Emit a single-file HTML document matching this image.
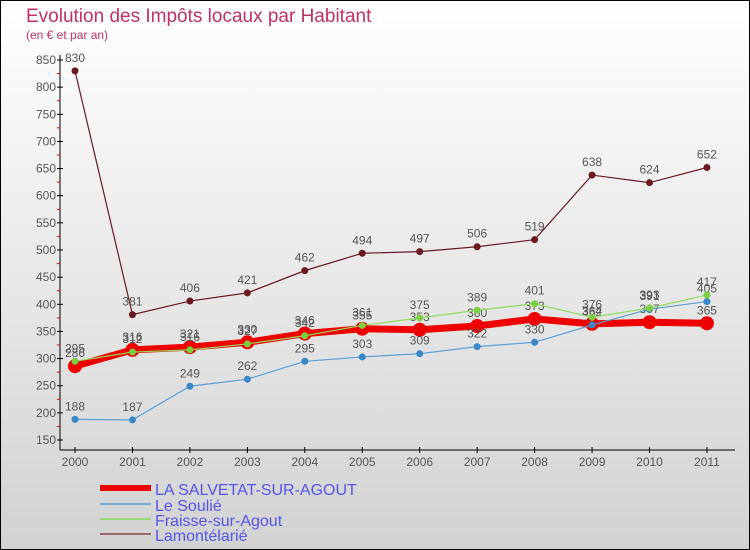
<!DOCTYPE html>
<html><head><meta charset="utf-8"><style>
body{margin:0;width:750px;height:550px;overflow:hidden;font-family:"Liberation Sans",sans-serif}
svg{display:block}
</style></head><body>
<svg width="750" height="550">
<defs><linearGradient id="bg" x1="0" y1="0" x2="0" y2="1"><stop offset="0" stop-color="#ffffff"/><stop offset="1" stop-color="#d2d2d2"/></linearGradient></defs>
<rect x="0.5" y="0.5" width="749" height="549" fill="url(#bg)" stroke="#000"/>
<text x="26" y="22" font-size="19" fill="#c0306a">Evolution des Impôts locaux par Habitant</text>
<text x="26" y="39" font-size="12" fill="#c0306a">(en € et par an)</text>
<g id="axes"></g><g id="series"></g><g id="legend"></g>
</svg>
<script>
const years=["2000","2001","2002","2003","2004","2005","2006","2007","2008","2009","2010","2011"];
const salvetat=[286,316,321,330,346,355,353,360,373,364,367,365];
const soulie=[188,187,249,262,295,303,309,322,330,362,391,405];
const fraisse=[295,312,316,327,342,361,375,389,401,376,393,417];
const lamont=[830,381,406,421,462,494,497,506,519,638,624,652];
const yTicks=[150,200,250,300,350,400,450,500,550,600,650,700,750,800,850];
const NS="http://www.w3.org/2000/svg";
const X=i=>75+i*57.45, Y=v=>440-(v-150)*380/700;
function mk(t,a,p){const e=document.createElementNS(NS,t);for(const k in a)e.setAttribute(k,a[k]);p.appendChild(e);return e;}
const ax=document.getElementById('axes');
let l=mk('line',{x1:60,y1:55,x2:60,y2:450,stroke:'#000'},ax);


l=mk('line',{x1:60,y1:450,x2:735,y2:450,stroke:'#000'},ax);


yTicks.forEach(v=>{
 mk('line',{x1:57,x2:63,y1:Y(v),y2:Y(v),stroke:'#000'},ax);
 if(v<850) mk('line',{x1:57,x2:60,y1:Y(v+25),y2:Y(v+25),stroke:'#e00'},ax);
 const t=mk('text',{x:56,y:Y(v)+4,'text-anchor':'end','font-size':12,fill:'#555'},ax);t.textContent=v;
 
 
});
years.forEach((y,i)=>{
 mk('line',{x1:X(i),x2:X(i),y1:447,y2:453,stroke:'#000'},ax);
 const t=mk('text',{x:X(i),y:466,'text-anchor':'middle','font-size':12,fill:'#555'},ax);t.textContent=y;
 
 
});
const sg=document.getElementById('series');
function series(data,color,w,r,name,dot){
 const g=mk('g',{},sg);
 
 
 mk('polyline',{points:data.map((v,i)=>X(i)+','+Y(v)).join(' '),fill:'none',stroke:color,'stroke-width':w},g);
 data.forEach((v,i)=>{
  const c=mk('circle',{cx:X(i),cy:Y(v),r:r,fill:dot||color},g);
  
  
  const t=mk('text',{x:X(i),y:Y(v)-9,'text-anchor':'middle','font-size':12,fill:'#555'},g);t.textContent=v;
  
  
 });
}
series(lamont,'#6b1a22',1.2,3.5,'lamontelarie-series');
series(salvetat,'#ee0000',7,7,'salvetat-series');
series(soulie,'#5a9fd6',1.2,3.5,'soulie-series','#3a87c8');
series(fraisse,'#8fdc5a',1.2,3.5,'fraisse-series','#7ad040');
const lg=document.getElementById('legend');
[['LA SALVETAT-SUR-AGOUT','#ee0000',6,492],['Le Soulié','#7aaad0',2,508],['Fraisse-sur-Agout','#9bd878',2,523],['Lamontélarié','#9a6a6a',2,538]].forEach(d=>{
 const g=mk('g',{},lg);
 
 
 mk('line',{x1:100,x2:151,y1:d[3]-4,y2:d[3]-4,stroke:d[1],'stroke-width':d[2]},g);
 const t=mk('text',{x:155,y:d[3]+3,'font-size':16,fill:'#5555ee'},g);t.textContent=d[0];
});
</script>
</body></html>
